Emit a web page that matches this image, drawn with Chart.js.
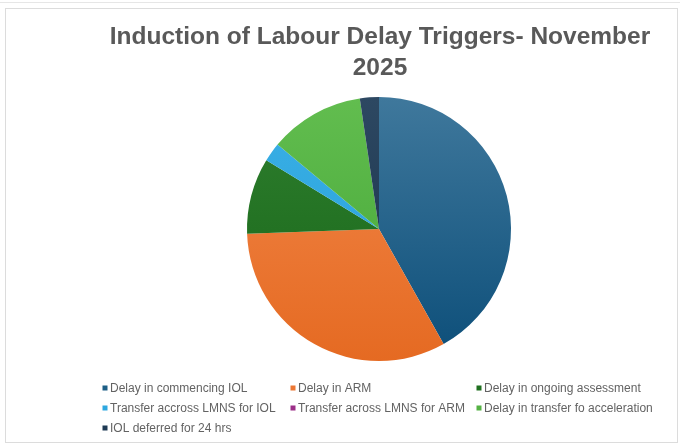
<!DOCTYPE html>
<html>
<head>
<meta charset="utf-8">
<script src="https://cdn.jsdelivr.net/npm/chart.js@4/dist/chart.umd.min.js"></script>
<style>
  html, body { margin: 0; padding: 0; background: #ffffff; }
  #wrap { position: relative; width: 680px; height: 446px; }
  canvas { display: block; }
</style>
</head>
<body>
<div id="wrap"><canvas id="c" width="680" height="446"></canvas></div>
<script>
// ---- data ----
const titleLines = ["Induction of Labour Delay Triggers- November", "2025"];
const categories = [
  "Delay in commencing IOL",
  "Delay in ARM",
  "Delay in ongoing assessment",
  "Transfer accross LMNS for IOL",
  "Transfer across LMNS for ARM",
  "Delay in transfer fo acceleration",
  "IOL deferred for 24 hrs"
];
const counts = [18, 14, 4, 1, 0, 5, 1];
const topColors    = ["#3f789c", "#f2874a", "#2f7f2f", "#3cb0e6", "#a3368d", "#62bd4f", "#2d4862"];
const bottomColors = ["#0c4e79", "#e56a22", "#176517", "#229ed8", "#94287f", "#43a535", "#183149"];
const legendColors = ["#1d5f86", "#ec7733", "#1f6f1f", "#2ea8e0", "#9c2f88", "#55b244", "#1f3a54"];

function sliceFill(ctx) {
  const chart = ctx.chart;
  const area = chart.chartArea;
  if (!area) return topColors[ctx.dataIndex];
  const g = chart.ctx.createLinearGradient(0, area.top, 0, area.bottom);
  g.addColorStop(0, topColors[ctx.dataIndex]);
  g.addColorStop(1, bottomColors[ctx.dataIndex]);
  return g;
}

const decor = {
  id: 'decor',
  beforeDraw(chart) {
    const c = chart.ctx;
    c.save();
    c.fillStyle = '#ffffff';
    c.fillRect(0, 0, chart.width, chart.height);
    // frame
    c.strokeStyle = '#dcdcdc';
    c.lineWidth = 1;
    c.strokeRect(5.5, 8.5, 672, 434);
    c.strokeStyle = '#e6e6e6';
    c.beginPath(); c.moveTo(0, 2.5); c.lineTo(680, 2.5); c.stroke();
    c.restore();
  },
  afterDraw(chart) {
    const c = chart.ctx;
    c.save();
    // title
    c.fillStyle = '#595959';
    c.font = 'bold 24.5px "Liberation Sans", Arial, sans-serif';
    c.textAlign = 'center';
    c.textBaseline = 'middle';
    c.fillText(titleLines[0], 380, 37);
    c.fillText(titleLines[1], 380, 68);
    // legend
    const colX = [105, 293, 479];
    const rowY = [388, 408, 428];
    c.font = '12px "Liberation Sans", Arial, sans-serif';
    c.textAlign = 'left';
    categories.forEach((name, i) => {
      const x = colX[i % 3];
      const y = rowY[Math.floor(i / 3)];
      c.fillStyle = legendColors[i];
      c.fillRect(x - 2.5, y - 2.5, 5, 5);
      c.fillStyle = '#636363';
      c.fillText(name, x + 5, y + 0.5);
    });
    c.restore();
  }
};

new Chart(document.getElementById('c'), {
  type: 'pie',
  data: {
    labels: categories,
    datasets: [{
      data: counts,
      backgroundColor: sliceFill,
      borderWidth: 0
    }]
  },
  options: {
    responsive: false,
    animation: false,
    layout: { padding: { left: 247, right: 169, top: 97, bottom: 85 } },
    plugins: {
      legend: { display: false },
      title: { display: false },
      tooltip: { enabled: false }
    }
  },
  plugins: [decor]
});
</script>
</body>
</html>
